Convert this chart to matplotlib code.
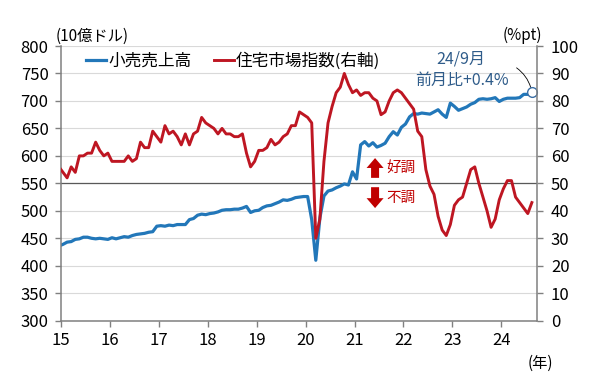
import numpy as np
import matplotlib.pyplot as plt
from matplotlib.patches import FancyArrow

plt.rcParams['font.family'] = ['Noto Sans CJK JP', 'DejaVu Sans']

# 小売売上高 (10億ドル), 2015/1 - 2024/9 monthly
retail_sales = [
    436, 439, 443, 444, 448, 449, 452, 452, 450, 449, 450, 449,   # 2015
    448, 451, 449, 451, 453, 452, 455, 457, 458, 459, 461, 462,   # 2016
    472, 473, 472, 474, 473, 475, 475, 475, 484, 486, 492, 494,   # 2017
    493, 495, 496, 498, 501, 502, 502, 503, 503, 505, 508, 497,   # 2018
    500, 501, 506, 509, 510, 513, 516, 520, 519, 521, 524, 525,   # 2019
    526, 526, 484, 410, 487, 527, 536, 538, 542, 545, 549, 547,   # 2020
    571, 558, 620, 626, 618, 624, 616, 619, 623, 635, 644, 638,   # 2021
    652, 658, 671, 677, 676, 678, 677, 676, 680, 684, 676, 670,   # 2022
    696, 690, 683, 686, 689, 694, 697, 703, 704, 703, 704, 706,   # 2023
    699, 703, 705, 705, 705, 706, 712, 712, 716,                  # 2024
]
# 住宅市場指数 (右軸)
housing_index = [
    56, 54, 52, 56, 54, 60, 60, 61, 61, 65, 62, 60,
    61, 58, 58, 58, 58, 60, 58, 59, 65, 63, 63, 69,
    67, 65, 71, 68, 69, 67, 64, 68, 64, 68, 69, 74,
    72, 71, 70, 68, 70, 68, 68, 67, 67, 68, 61, 56,
    58, 62, 62, 63, 66, 64, 65, 67, 68, 71, 71, 76,
    75, 74, 72, 30, 37, 58, 72, 78, 83, 85, 90, 86,
    83, 84, 82, 83, 83, 81, 80, 75, 76, 80, 83, 84,
    83, 81, 79, 77, 69, 67, 55, 49, 46, 38, 33, 31,
    35, 42, 44, 45, 50, 55, 56, 50, 45, 40, 34, 37,
    44, 48, 51, 51, 45, 43, 41, 39, 43,
]
years = list(range(2015, 2025))
year_labels = [str(y)[2:] for y in years]

# months plotted slightly before the year ticks, like the original
months = 2015 + (np.arange(len(retail_sales)) - 0.5) / 12

blue = '#2277b9'
red = '#be1622'
gray = '#808080'

fig = plt.figure(figsize=(6, 3.77), dpi=100)
ax = fig.add_axes([61 / 600, 1 - 320.7 / 377, 476 / 600, 274.7 / 377])
ax2 = ax.twinx()

ax.set_xlim(2015, 2024.73)
ax.set_ylim(300, 800)
ax.set_yticks(range(300, 801, 50))
ax.set_xticks(years)
ax.set_xticklabels(year_labels)
ax2.set_ylim(0, 100)
ax2.set_yticks(range(0, 101, 10))

ax.yaxis.grid(True, color='#d9d9d9', lw=0.8)
ax.set_axisbelow(True)
ax.axhline(550, color='#595959', lw=0.9, zorder=1)

for a in (ax, ax2):
    a.spines['top'].set_visible(False)
    for s in a.spines.values():
        s.set_color(gray)
        s.set_linewidth(1.1)
ax.spines['right'].set_visible(False)
ax2.spines['left'].set_visible(False)
ax2.spines['bottom'].set_visible(False)

ax.tick_params(axis='both', direction='out', length=4, width=1, color=gray,
               labelsize=12, pad=5)
ax.tick_params(axis='x', pad=4)
ax2.tick_params(axis='y', direction='out', length=4, width=1, color=gray,
                labelsize=12, pad=6)

l1, = ax.plot(months, retail_sales, color=blue, lw=2.3, label='小売売上高')
l2, = ax2.plot(months, housing_index, color=red, lw=2.1, label='住宅市場指数(右軸)')

# last point marker + note
ax.plot(months[-1], retail_sales[-1], 'o', ms=7, mfc='white', mec='#3a6ea5', mew=1,
        zorder=5, clip_on=False)
ax.annotate('', xy=(months[-1], retail_sales[-1]), xytext=(-11, 17.5),
            textcoords='offset points',
            arrowprops=dict(arrowstyle='-', color='black', lw=0.6, shrinkA=0, shrinkB=3.5,
                            connectionstyle='arc3,rad=-0.2'))
ax.text(2023.17, 776, '24/9月', color='#2f5c8a', fontsize=11.5, ha='center', va='center')
ax.text(2023.19, 738, '前月比+0.4%', color='#2f5c8a', fontsize=11.5, ha='center', va='center')

# 好調 / 不調
ax.add_patch(FancyArrow(2021.42, 560, 0, 36, width=8 / 48.86, head_width=17 / 48.86,
                        head_length=18, length_includes_head=True, color='#c00000', lw=0))
ax.add_patch(FancyArrow(2021.42, 543, 0, -38, width=8 / 48.86, head_width=17 / 48.86,
                        head_length=18, length_includes_head=True, color='#c00000', lw=0))
ax.text(2021.94, 578, '好調', color='#c00000', fontsize=10.5, ha='center', va='center')
ax.text(2021.94, 523, '不調', color='#c00000', fontsize=10.5, ha='center', va='center')

ax2.legend(handles=[l1, l2], loc='center left', bbox_to_anchor=(0.053, 0.945),
           ncol=2, frameon=False, fontsize=12, handlelength=1.2, handletextpad=0.15,
           columnspacing=1.3, borderpad=0, borderaxespad=0)

fig.text(56 / 600, 1 - 36 / 377, '(10億ドル)', fontsize=11, ha='left', va='center')
fig.text(542 / 600, 1 - 35 / 377, '(%pt)', fontsize=11, ha='right', va='center')
fig.text(540 / 600, 1 - 363 / 377, '(年)', fontsize=11, ha='center', va='center')

fig.savefig('out.png', dpi=100)
